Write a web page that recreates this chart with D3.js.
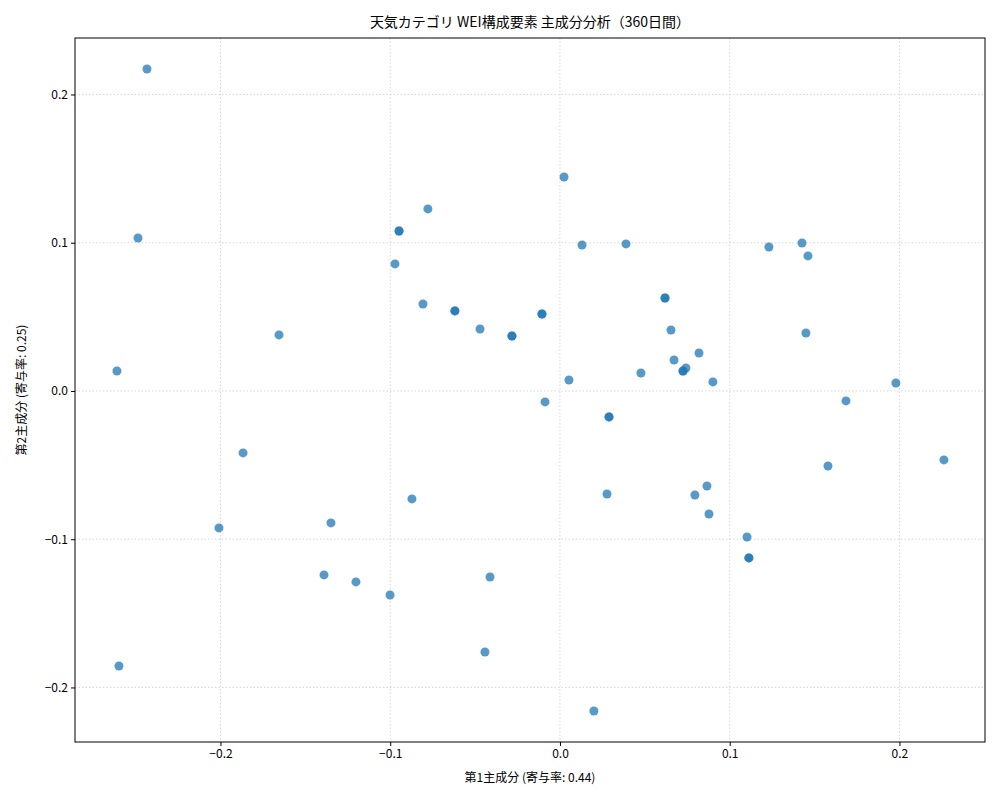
<!DOCTYPE html>
<html><head><meta charset="utf-8">
<script src="https://cdn.jsdelivr.net/npm/d3@7"></script>
<style>body{margin:0;background:#fff}text{font-family:"Noto Sans CJK JP",sans-serif}</style>
</head><body><svg id="chart" width="1000" height="800"></svg>
<script>
const pc1 = [-0.2433,-0.2486,-0.261,-0.2598,-0.1655,-0.1867,-0.2009,-0.1349,-0.139,-0.1202,-0.1001,-0.0872,-0.0972,-0.0948,-0.0948,-0.0807,-0.0778,-0.0619,-0.0619,-0.0471,-0.0412,-0.0442,-0.0283,-0.0283,-0.0106,-0.0106,-0.0088,0.0024,0.0053,0.013,0.02,0.0277,0.0289,0.0289,0.0389,0.0477,0.0619,0.0619,0.0654,0.0672,0.0725,0.0725,0.0742,0.0819,0.0795,0.0866,0.0878,0.0901,0.1102,0.1113,0.1113,0.1231,0.1426,0.1461,0.1449,0.1579,0.1685,0.1979,0.2262];
const pc2 = [0.2172,0.1032,0.0135,-0.1855,0.0378,-0.0418,-0.0924,-0.089,-0.1241,-0.1288,-0.1376,-0.0728,0.0857,0.1079,0.1079,0.0587,0.1228,0.054,0.054,0.0418,-0.1255,-0.1761,0.0371,0.0371,0.0519,0.0519,-0.0074,0.1443,0.0074,0.0985,-0.2159,-0.0695,-0.0175,-0.0175,0.0992,0.0121,0.0627,0.0627,0.0411,0.0209,0.0135,0.0135,0.0155,0.0256,-0.0702,-0.0641,-0.083,0.0061,-0.0985,-0.1126,-0.1126,0.0971,0.0998,0.0911,0.0391,-0.0506,-0.0067,0.0054,-0.0465];
const xTicks = [-0.2,-0.1,0.0,0.1,0.2];
const yTicks = [-0.2,-0.1,0.0,0.1,0.2];

const L=75,R=985,T=38,B=742;
const svg=d3.select("#chart");
const x=d3.scaleLinear().domain([-0.2857,0.2504]).range([L,R]);
const y=d3.scaleLinear().domain([-0.2368,0.2381]).range([B,T]);
const fmt=d3.format(".1f");

// grid
svg.append("g").selectAll("line").data(xTicks).join("line")
  .attr("x1",d=>x(d)).attr("x2",d=>x(d)).attr("y1",T).attr("y2",B)
  .attr("stroke","#ccc").attr("stroke-width",0.8).attr("stroke-dasharray","1.5,2");
svg.append("g").selectAll("line").data(yTicks).join("line")
  .attr("y1",d=>y(d)).attr("y2",d=>y(d)).attr("x1",L).attr("x2",R)
  .attr("stroke","#ccc").attr("stroke-width",0.8).attr("stroke-dasharray","1.5,2");

// points
svg.append("g").selectAll("circle").data(pc1.map((v,i)=>[v,pc2[i]])).join("circle")
  .attr("cx",d=>x(d[0])).attr("cy",d=>y(d[1])).attr("r",4.5)
  .attr("fill","#1f77b4").attr("fill-opacity",0.75);

// axes
const xa=svg.append("g").attr("transform",`translate(0,${B})`)
  .call(d3.axisBottom(x).tickValues(xTicks).tickFormat(fmt).tickSizeOuter(0).tickSize(4));
const ya=svg.append("g").attr("transform",`translate(${L},0)`)
  .call(d3.axisLeft(y).tickValues(yTicks).tickFormat(fmt).tickSizeOuter(0).tickSize(4));
[xa,ya].forEach(a=>{a.selectAll("text").attr("font-size",12).attr("fill","#000");a.select(".domain").remove();});
svg.append("rect").attr("x",L).attr("y",T).attr("width",R-L).attr("height",B-T)
  .attr("fill","none").attr("stroke","#000").attr("stroke-width",1);

svg.append("text").attr("x",(L+R)/2).attr("y",27).attr("text-anchor","middle")
  .attr("font-size",14).text("天気カテゴリ WEI構成要素 主成分分析（360日間）");
svg.append("text").attr("x",(L+R)/2).attr("y",782).attr("text-anchor","middle")
  .attr("font-size",12).text("第1主成分 (寄与率: 0.44)");
svg.append("text").attr("transform",`translate(26,${(T+B)/2}) rotate(-90)`).attr("text-anchor","middle")
  .attr("font-size",12).text("第2主成分 (寄与率: 0.25)");
</script></body></html>
